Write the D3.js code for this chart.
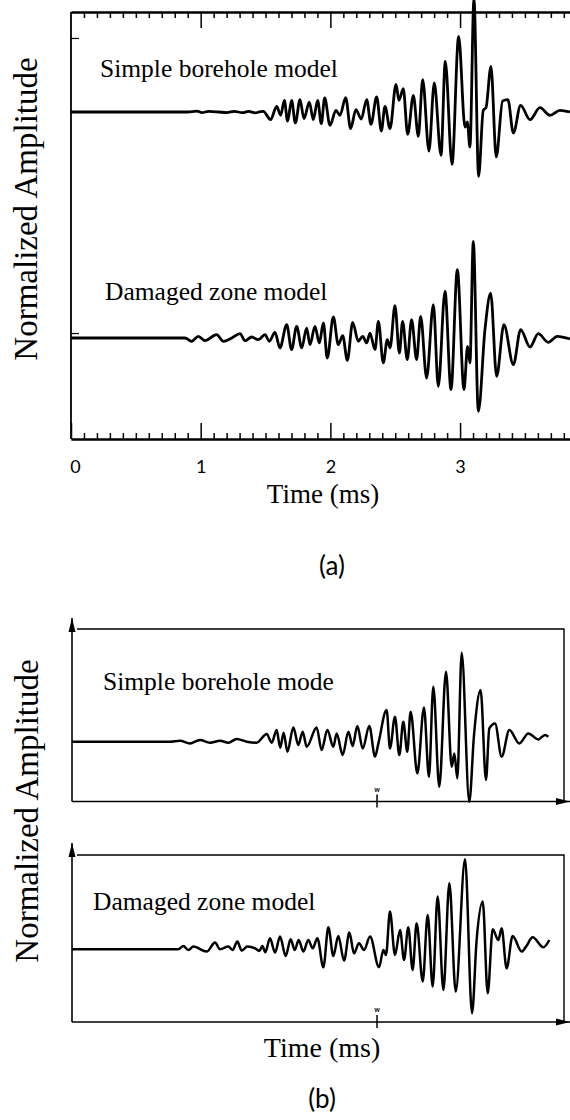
<!DOCTYPE html>
<html>
<head>
<meta charset="utf-8">
<script src="https://cdn.jsdelivr.net/npm/d3@7"></script>
<style>
body { margin: 0; background: #fff; }
svg { display: block; }
</style>
</head>
<body>
<div id="chart"></div>
<script>
// waveform extrema: [time (ms), normalized amplitude]
var simpleA = [[0,0],[0.9,0],[0.97,0.008],[1.01,-0.005],[1.06,0.005],[1.14,0],[1.2,-0.005],[1.26,0.006],[1.32,-0.006],[1.37,0.005],[1.42,-0.008],[1.46,0.004],
  [1.483,0.006],[1.539,-0.068],[1.586,0.050],[1.617,-0.029],[1.645,0.103],[1.670,-0.080],[1.701,0.103],[1.730,-0.097],[1.766,0.109],[1.796,-0.059],
  [1.838,0.088],[1.868,-0.068],[1.902,0.103],[1.930,-0.103],[1.956,0.124],[1.997,-0.118],[2.043,0.015],[2.074,-0.029],[2.118,0.127],[2.156,-0.147],
  [2.197,0.021],[2.238,-0.062],[2.280,0.109],[2.313,-0.109],[2.357,0.133],[2.393,-0.168],[2.421,0.050],[2.460,-0.147],[2.506,0.245],[2.529,0.103],
  [2.562,0.206],[2.596,-0.198],[2.640,0.147],[2.678,-0.215],[2.712,0.286],[2.760,-0.345],[2.801,0.257],[2.853,-0.383],[2.886,0.448],[2.938,-0.463],
  [2.989,0.670],[3.038,-0.133],[3.056,-0.088],[3.076,-0.310],[3.107,1.0],[3.143,-0.569],[3.179,0.015],[3.200,0.038],[3.238,0.404],[3.279,-0.398],
  [3.328,0.097],[3.369,0.109],[3.411,-0.186],[3.467,0.059],[3.539,-0.068],[3.616,0.038],[3.693,-0.029],[3.770,0.015],[3.847,0]];

var damagedA = [[0,0],[0.879,0],[0.930,-0.029],[0.982,0.015],[1.033,-0.024],[1.123,0.029],[1.175,-0.029],[1.239,0],[1.303,0.038],[1.342,-0.024],
  [1.393,0.009],[1.444,-0.015],[1.496,0.029],[1.529,-0.029],[1.573,0.050],[1.611,-0.088],[1.663,0.118],[1.701,-0.103],[1.740,0.103],[1.779,-0.088],
  [1.817,0.088],[1.843,-0.059],[1.881,0.103],[1.915,-0.044],[1.946,0.133],[1.976,-0.177],[2.023,0.186],[2.061,-0.059],[2.095,0.021],[2.131,-0.198],
  [2.172,0.139],[2.215,-0.029],[2.249,0.015],[2.280,-0.044],[2.305,0.044],[2.344,-0.103],[2.370,0.147],[2.408,-0.221],[2.439,-0.015],[2.460,-0.088],
  [2.498,0.286],[2.532,-0.133],[2.557,0.147],[2.593,-0.192],[2.626,0.162],[2.665,-0.192],[2.696,0.192],[2.742,-0.354],[2.794,0.295],[2.832,-0.428],
  [2.884,0.413],[2.930,-0.457],[2.979,0.605],[3.030,-0.457],[3.058,-0.074],[3.076,-0.221],[3.102,0.855],[3.141,-0.649],[3.192,0.074],[3.236,0.398],
  [3.282,-0.339],[3.338,0.118],[3.411,-0.236],[3.467,0.074],[3.539,-0.080],[3.603,0.038],[3.680,-0.038],[3.750,0.015],[3.847,-0.009]];

var simpleB = [[0,0],[0.787,0],[0.867,0.010],[0.948,-0.017],[1.028,0.017],[1.108,-0.010],[1.189,0.010],[1.256,-0.010],[1.323,0.027],[1.403,0],
  [1.483,-0.010],[1.564,0.077],[1.604,-0.010],[1.644,0.117],[1.672,-0.060],[1.700,0.090],[1.730,-0.100],[1.778,0.143],[1.818,-0.033],[1.853,0.100],
  [1.885,-0.050],[1.965,0.143],[2.005,-0.083],[2.051,0.117],[2.099,-0.050],[2.126,0.083],[2.174,-0.133],[2.220,0.100],[2.254,-0.043],[2.292,0.157],
  [2.335,-0.067],[2.388,0.157],[2.434,-0.150],[2.461,-0.017],[2.527,0.317],[2.554,-0.067],[2.594,0.250],[2.629,-0.133],[2.661,0.200],[2.693,-0.100],
  [2.720,0.300],[2.774,-0.317],[2.827,0.343],[2.867,-0.350],[2.902,0.550],[2.950,-0.450],[3.004,0.700],[3.050,-0.250],[3.071,-0.117],[3.095,-0.367],
  [3.130,0.890],[3.191,-0.600],[3.229,0.067],[3.282,0.517],[3.325,-0.383],[3.352,0.133],[3.398,0.183],[3.451,-0.150],[3.513,0.117],[3.593,-0.017],
  [3.665,0.083],[3.745,0.023],[3.799,0.067],[3.826,0.050]];

var damagedB = [[0,0],[0.854,0],[0.894,0.033],[0.934,-0.007],[0.975,0.027],[1.082,-0.023],[1.149,0.067],[1.189,0],[1.256,0.027],[1.290,-0.007],
  [1.328,0.077],[1.363,-0.013],[1.408,0.027],[1.470,0.010],[1.505,-0.017],[1.529,0.033],[1.553,-0.030],[1.590,0.110],[1.631,-0.033],[1.671,0.127],
  [1.716,-0.067],[1.756,0.100],[1.789,-0.007],[1.821,0.093],[1.858,-0.023],[1.898,0.093],[1.933,0.010],[1.971,0.110],[2.019,-0.180],[2.059,0.220],
  [2.099,-0.067],[2.139,0.133],[2.185,-0.113],[2.228,0.167],[2.265,-0.040],[2.305,0.060],[2.345,-0.007],[2.394,0.127],[2.466,-0.180],[2.501,-0.007],
  [2.522,-0.057],[2.554,0.377],[2.594,-0.057],[2.635,0.193],[2.667,-0.107],[2.701,0.220],[2.736,-0.207],[2.768,0.260],[2.817,-0.323],[2.857,0.343],
  [2.897,-0.373],[2.937,0.527],[2.983,-0.407],[3.031,0.660],[3.082,-0.423],[3.157,0.900],[3.213,-0.640],[3.250,0.093],[3.299,0.477],[3.339,-0.440],
  [3.379,0.200],[3.424,0.093],[3.451,0.210],[3.491,-0.190],[3.539,0.133],[3.612,-0.023],[3.647,0.027],[3.700,0.120],[3.786,0.020],[3.834,0.093]];

var majorTicks = [0, 1, 2, 3];
var minorTicks = d3.range(1, 39).filter(i => i % 10 !== 0).map(i => i / 10);
var leftTicksA = [0.655, -1.956];   // two short marks on the left axis of (a)
var markTime = 2.45;                // small "w" mark on the (b) time axes

var serif = "'Liberation Serif', 'Times New Roman', serif";
var sans = "Lato, 'DejaVu Sans', sans-serif";

var svg = d3.select("#chart").append("svg")
    .attr("width", 570)
    .attr("height", 1120);

// ---------- panel (a) ----------
var xA = d3.scaleLinear().domain([0, 3.85]).range([71, 570.3]);
var yA = d3.scaleLinear().domain([-1, 1]).range([225, -1]);   // 0 -> y 112

function lineA(off) {
    return d3.line()
        .x(d => xA(d[0]))
        .y(d => yA(d[1] + off))
        .curve(d3.curveMonotoneX);
}

function styleAxis(g) {
    g.select(".domain").attr("stroke", "#000").attr("stroke-width", 1.8);
    g.selectAll(".tick line").attr("stroke", "#000").attr("stroke-width", 1.5);
}

// top edge
svg.append("g").attr("transform", "translate(0,12)")
    .call(d3.axisBottom(xA).tickValues(minorTicks).tickSize(6).tickSizeOuter(0).tickFormat(""))
    .call(styleAxis);
svg.append("g").attr("transform", "translate(0,12)")
    .call(d3.axisBottom(xA).tickValues(majorTicks.slice(1)).tickSize(16).tickSizeOuter(0).tickFormat(""))
    .call(styleAxis);

// bottom edge
svg.append("g").attr("transform", "translate(0,439)")
    .call(d3.axisBottom(xA).tickValues(minorTicks).tickSize(-6).tickSizeOuter(0).tickFormat(""))
    .call(styleAxis);
var bottomA = svg.append("g").attr("transform", "translate(0,439)")
    .call(d3.axisBottom(xA).tickValues(majorTicks).tickSize(-16).tickSizeOuter(0)
        .tickPadding(21).tickFormat(d3.format("d")))
    .call(styleAxis);
bottomA.selectAll(".tick text")
    .attr("font-family", sans)
    .attr("font-size", 18)
    .attr("fill", "#000");
bottomA.select(".tick text").attr("dx", 4);

// left edge
var leftA = svg.append("g").attr("transform", "translate(71,0)")
    .call(d3.axisRight(yA).tickValues(leftTicksA).tickSize(8).tickSizeOuter(0).tickFormat(""));
leftA.select(".domain").remove();
leftA.selectAll(".tick line").attr("stroke", "#000").attr("stroke-width", 1.2);
svg.append("line")
    .attr("x1", 71).attr("x2", 71).attr("y1", 12).attr("y2", 439)
    .attr("stroke", "#000").attr("stroke-width", 1.8);

// traces
svg.append("path").datum(simpleA)
    .attr("d", lineA(0))
    .attr("fill", "none").attr("stroke", "#000").attr("stroke-width", 2.8);
svg.append("path").datum(damagedA)
    .attr("d", lineA(-2))
    .attr("fill", "none").attr("stroke", "#000").attr("stroke-width", 2.8);

svg.append("text").attr("x", 100).attr("y", 77)
    .attr("font-family", serif).attr("font-size", 25.5)
    .text("Simple borehole model");
svg.append("text").attr("x", 105).attr("y", 300)
    .attr("font-family", serif).attr("font-size", 25.5)
    .text("Damaged zone model");

svg.append("text")
    .attr("transform", "translate(37,209) rotate(-90)")
    .attr("text-anchor", "middle")
    .attr("font-family", serif).attr("font-size", 33)
    .text("Normalized Amplitude");

svg.append("text").attr("x", 323).attr("y", 503)
    .attr("text-anchor", "middle")
    .attr("font-family", serif).attr("font-size", 27)
    .text("Time (ms)");

svg.append("text").attr("x", 332).attr("y", 575)
    .attr("text-anchor", "middle")
    .attr("font-family", sans).attr("font-size", 26)
    .text("(a)");

// ---------- panel (b) ----------
var xB = d3.scaleLinear().domain([0, 4]).range([72, 570]);
var yB1 = d3.scaleLinear().domain([-1, 1]).range([841.7, 641.7]);
var yB2 = d3.scaleLinear().domain([-1, 1]).range([1049.3, 849.3]);

var defs = svg.append("defs");
defs.append("marker")
    .attr("id", "arrow")
    .attr("markerUnits", "userSpaceOnUse")
    .attr("viewBox", "0 0 14 8")
    .attr("refX", 14).attr("refY", 4)
    .attr("markerWidth", 14).attr("markerHeight", 8)
    .attr("orient", "auto")
    .append("path")
    .attr("d", "M0,0.5 L14,4 L0,7.5 Z")
    .attr("fill", "#000");

var boxesB = [
    { y: yB1, top: 618, box: 629, base: 801.5, data: simpleB, label: "Simple borehole mode", lx: 103, ly: 690 },
    { y: yB2, top: 843, box: 855, base: 1022, data: damagedB, label: "Damaged zone model", lx: 93, ly: 910 }
];

boxesB.forEach(function(b) {
    // y axis with arrow
    svg.append("line")
        .attr("x1", xB(0)).attr("x2", xB(0)).attr("y1", b.base).attr("y2", b.top)
        .attr("stroke", "#000").attr("stroke-width", 1.6)
        .attr("marker-end", "url(#arrow)");
    // time axis with arrow
    svg.append("line")
        .attr("x1", xB(0)).attr("x2", xB(4)).attr("y1", b.base).attr("y2", b.base)
        .attr("stroke", "#000").attr("stroke-width", 1.6)
        .attr("marker-end", "url(#arrow)");
    // box top and right side
    svg.append("path")
        .attr("d", "M" + (xB(0) + 5) + "," + b.box + "H" + xB(3.952) + "V" + b.base)
        .attr("fill", "none").attr("stroke", "#000").attr("stroke-width", 1.4);
    // small mark on the time axis
    svg.append("line")
        .attr("x1", xB(markTime)).attr("x2", xB(markTime))
        .attr("y1", b.base - 7).attr("y2", b.base + 6)
        .attr("stroke", "#000").attr("stroke-width", 1.5);
    svg.append("text")
        .attr("x", xB(markTime)).attr("y", b.base - 10)
        .attr("text-anchor", "middle")
        .attr("font-family", sans).attr("font-size", 7).attr("font-weight", "bold")
        .attr("fill", "#000")
        .text("w");
    // trace
    svg.append("path").datum(b.data)
        .attr("d", d3.line().x(d => xB(d[0])).y(d => b.y(d[1])).curve(d3.curveMonotoneX))
        .attr("fill", "none").attr("stroke", "#000").attr("stroke-width", 2.5);
    svg.append("text").attr("x", b.lx).attr("y", b.ly)
        .attr("font-family", serif).attr("font-size", 25.5)
        .text(b.label);
});

svg.append("text")
    .attr("transform", "translate(38,811) rotate(-90)")
    .attr("text-anchor", "middle")
    .attr("font-family", serif).attr("font-size", 33)
    .text("Normalized Amplitude");

svg.append("text").attr("x", 322).attr("y", 1057)
    .attr("text-anchor", "middle")
    .attr("font-family", serif).attr("font-size", 28)
    .text("Time (ms)");

svg.append("text").attr("x", 322).attr("y", 1108)
    .attr("text-anchor", "middle")
    .attr("font-family", sans).attr("font-size", 26)
    .text("(b)");
</script>
</body>
</html>
